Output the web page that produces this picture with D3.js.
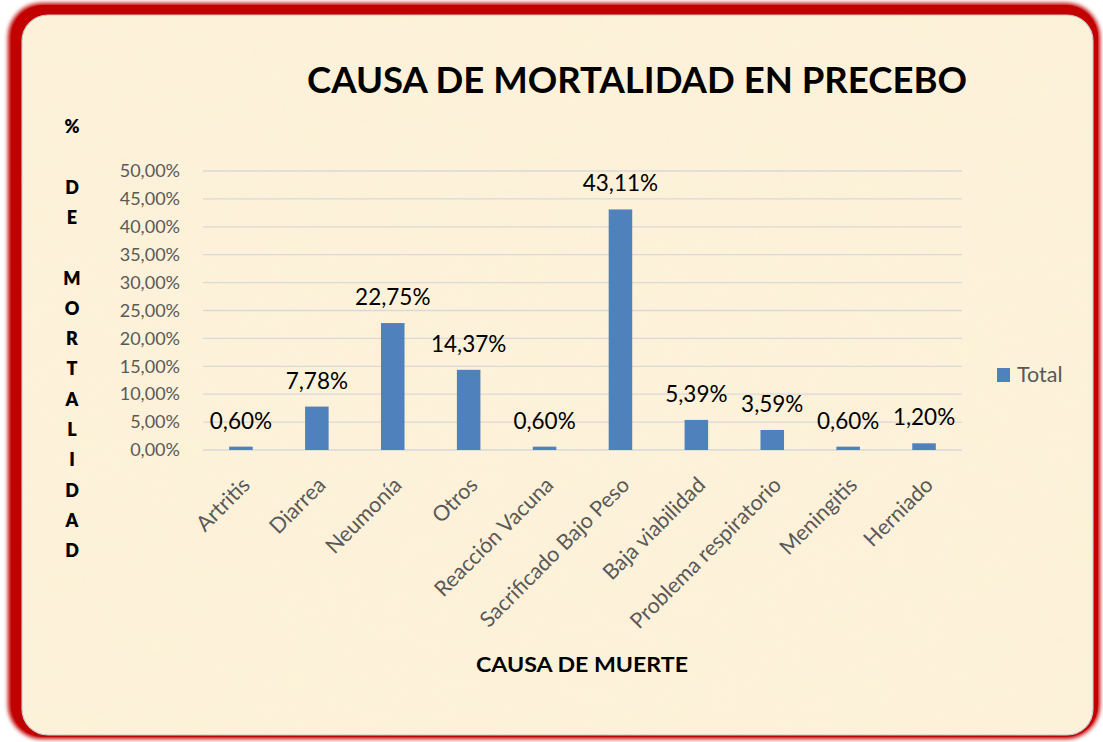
<!DOCTYPE html>
<html>
<head>
<meta charset="utf-8">
<script src="https://cdn.jsdelivr.net/npm/d3@7"></script>
<style>
  body { margin: 0; background: #fff; }
  svg { display: block; font-family: Lato, "Open Sans", sans-serif; }
</style>
</head>
<body>
<svg id="viz" width="1103" height="742"></svg>
<script>
// data
const categories = ["Artritis", "Diarrea", "Neumonía", "Otros", "Reacción Vacuna",
  "Sacrificado Bajo Peso", "Baja viabilidad", "Problema respiratorio", "Meningitis", "Herniado"];
const values = [0.60, 7.78, 22.75, 14.37, 0.60, 43.11, 5.39, 3.59, 0.60, 1.20];
const yTicks = [0, 5, 10, 15, 20, 25, 30, 35, 40, 45, 50];
const yTitleLetters = ["%", "", "D", "E", "", "M", "O", "R", "T", "A", "L", "I", "D", "A", "D"];
const seriesName = "Total";

const W = 1103, H = 742;
const plot = {l: 203, r: 962, t: 171, b: 450};

const locale = d3.formatLocale({decimal: ",", thousands: ".", grouping: [3], currency: ["", ""]});
const pct = v => locale.format(".2f")(v) + "%";

const svg = d3.select("#viz");
const defs = svg.append("defs");

// frame shadow + paper texture
const sh = defs.append("filter").attr("id", "soft").attr("x", "-5%").attr("y", "-5%")
  .attr("width", "110%").attr("height", "110%");
sh.append("feGaussianBlur").attr("stdDeviation", 2.2);

const paper = defs.append("filter").attr("id", "paper").attr("x", 0).attr("y", 0)
  .attr("width", "100%").attr("height", "100%");
paper.append("feTurbulence").attr("type", "fractalNoise").attr("baseFrequency", "0.018 0.03")
  .attr("numOctaves", 3).attr("seed", 7).attr("result", "n");
paper.append("feColorMatrix").attr("in", "n").attr("type", "matrix")
  .attr("values", "0 0 0 0 0.96  0 0 0 0 0.90  0 0 0 0 0.68  2.2 0 0 0 -0.9")
  .attr("result", "c");
paper.append("feComposite").attr("in", "c").attr("in2", "SourceGraphic").attr("operator", "in");

defs.append("clipPath").attr("id", "inner")
  .append("rect").attr("x", 22).attr("y", 15).attr("width", 1071).attr("height", 720).attr("rx", 26);

// red frame
svg.append("rect").attr("x", 8).attr("y", 3).attr("width", 1092).attr("height", 736)
  .attr("rx", 34).attr("fill", "#c00000").attr("filter", "url(#soft)");
svg.append("rect").attr("x", 11).attr("y", 5).attr("width", 1087).attr("height", 732)
  .attr("rx", 32).attr("fill", "#c20000");

// parchment
svg.append("rect").attr("x", 22).attr("y", 15).attr("width", 1071).attr("height", 720)
  .attr("rx", 26).attr("fill", "#fdf1da");
svg.append("rect").attr("x", 22).attr("y", 15).attr("width", 1071).attr("height", 720)
  .attr("clip-path", "url(#inner)").attr("fill", "#fff").attr("filter", "url(#paper)")
  .attr("opacity", 0.7);
svg.append("rect").attr("x", 22).attr("y", 15).attr("width", 1071).attr("height", 720)
  .attr("rx", 26).attr("fill", "none").attr("stroke", "#c8c8c8").attr("stroke-width", 1.2);

// scales
const x = d3.scaleBand().domain(categories).range([plot.l, plot.r])
  .paddingInner(0.69).paddingOuter(0.345);
const y = d3.scaleLinear().domain([0, 50]).range([plot.b, plot.t]);

// gridlines
svg.append("g").selectAll("line").data(yTicks).join("line")
  .attr("x1", plot.l).attr("x2", plot.r)
  .attr("y1", d => y(d)).attr("y2", d => y(d))
  .attr("stroke", "#d9d9d9").attr("stroke-width", 1.3);

// y axis labels
const gy = svg.append("g").attr("transform", `translate(${plot.l},0)`)
  .call(d3.axisLeft(y).tickValues(yTicks).tickSize(0).tickPadding(23).tickFormat(pct));
gy.select(".domain").remove();
gy.selectAll("text").attr("font-size", 18).attr("fill", "#595959")
  .attr("font-family", "Lato, sans-serif");

// bars
svg.append("g").selectAll("rect").data(values).join("rect")
  .attr("x", (d, i) => x(categories[i]))
  .attr("y", d => y(d))
  .attr("width", x.bandwidth())
  .attr("height", d => y(0) - y(d))
  .attr("fill", "#4f81bd");

// data labels
svg.append("g").selectAll("text").data(values).join("text")
  .attr("x", (d, i) => x(categories[i]) + x.bandwidth() / 2)
  .attr("y", d => y(d) - 18)
  .attr("text-anchor", "middle").attr("font-size", 22.5).attr("fill", "#000")
  .text(d => pct(d));

// category labels
const gx = svg.append("g").attr("transform", `translate(0,${plot.b})`)
  .call(d3.axisBottom(x).tickSize(0).tickFormat(d => d));
gx.select(".domain").remove();
gx.selectAll("text")
  .attr("font-size", 21.5).attr("fill", "#595959").attr("font-family", "Lato, sans-serif")
  .attr("text-anchor", "end")
  .attr("dy", "0.35em")
  .attr("transform", "translate(5,31) rotate(-45)")
  .attr("y", 0);

// title
svg.append("text").attr("x", 637).attr("y", 93).attr("text-anchor", "middle")
  .attr("font-size", 37).attr("font-weight", 700).attr("fill", "#000")
  .attr("textLength", 660).attr("lengthAdjust", "spacingAndGlyphs")
  .text("CAUSA DE MORTALIDAD EN PRECEBO");

// x axis title
svg.append("text").attr("x", 582).attr("y", 672).attr("text-anchor", "middle")
  .attr("font-size", 21).attr("font-weight", 700).attr("fill", "#000")
  .attr("textLength", 212).attr("lengthAdjust", "spacingAndGlyphs")
  .text("CAUSA DE MUERTE");

// y axis title (stacked letters)
svg.append("g").selectAll("text").data(yTitleLetters).join("text")
  .attr("x", 72).attr("y", (d, i) => 133 + i * 30.3)
  .attr("text-anchor", "middle").attr("font-size", 18).attr("font-weight", 800)
  .attr("fill", "#000").text(d => d);

// legend
const lg = svg.append("g").attr("transform", "translate(997,368)");
lg.append("rect").attr("width", 13).attr("height", 14).attr("fill", "#4f81bd");
lg.append("text").attr("x", 20).attr("y", 14).attr("font-size", 21.5)
  .attr("fill", "#595959").text(seriesName);
</script>
</body>
</html>
